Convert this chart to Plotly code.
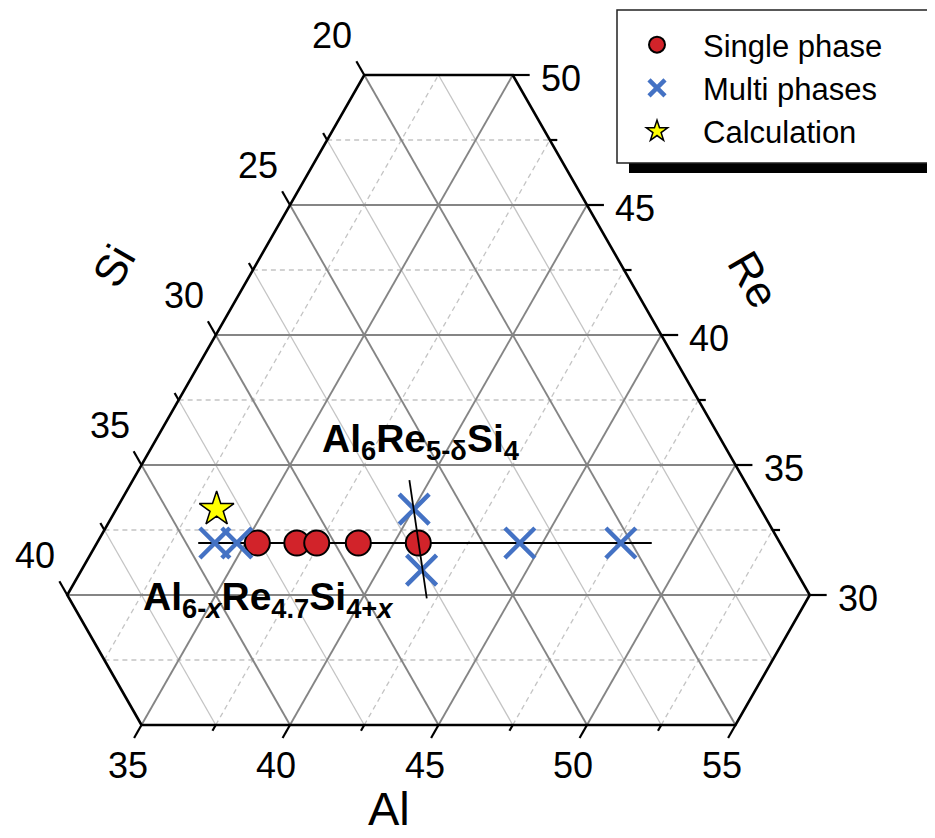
import plotly.graph_objects as go

# ---------------- data (at.%) ----------------
single_al = [35.40, 36.73, 37.40, 38.80, 40.82]
single_re = [32.0, 32.0, 32.0, 32.0, 32.0]
single_si = [100 - a - r for a, r in zip(single_al, single_re)]

multi_al = [33.97, 34.71, 44.24, 47.64, 40.03, 41.45]
multi_re = [32.0, 32.0, 32.0, 32.0, 33.30, 30.96]
multi_si = [100 - a - r for a, r in zip(multi_al, multi_re)]

calc_al = [33.38]
calc_re = [33.30]
calc_si = [100 - a - r for a, r in zip(calc_al, calc_re)]

# Al(6-x)Re4.7Si(4+x) line (constant Re) and Al6Re(5-d)Si4 line (Al:Si = 6:4)
line1_al = [33.41, 48.68]
line1_re = [32.0, 32.0]
line2_al = [39.31, 42.17]
line2_re = [34.42, 29.87]

# axis tick labels
AL_TICKS = [35, 40, 45, 50, 55]
SI_TICKS = [20, 25, 30, 35, 40]
RE_TICKS = [30, 35, 40, 45, 50]

# composition window shown (hexagon)
AL_MIN, AL_MAX = 30, 55
SI_MIN, SI_MAX = 15, 40
RE_MIN, RE_MAX = 25, 50

# ---------------- geometry helpers ----------------
OFF = 8                      # page body margin
W, H = 935 - OFF, 838 - OFF
PX_X = 29.7                  # px per at.% along edges (horizontal)
PX_Y = 26.0                  # px per at.% of Re (vertical)
X0_PX, Y0_PX = 141.5 - OFF, 725.0 - OFF   # figure pixel of Al=35, Re=25 corner
X_REF = 35 + 25 / 2


def xy(al, re):
    """ternary composition (Al, Re; Si = rest) -> cartesian data coords"""
    return al + re / 2.0, re


x_range = [X_REF - X0_PX / PX_X, X_REF + (W - X0_PX) / PX_X]
y_range = [RE_MIN - (H - Y0_PX) / PX_Y, RE_MIN + Y0_PX / PX_Y]


def px2paper(px, py):
    return (px - OFF) / W, 1 - (py - OFF) / H


def frange(a, b, step):
    out, v = [], a
    while v <= b + 1e-9:
        out.append(round(v, 4))
        v += step
    return out


def seg_re(r):
    a0 = max(AL_MIN, 100 - r - SI_MAX)
    a1 = min(AL_MAX, 100 - r - SI_MIN)
    return [(a0, r), (a1, r)]


def seg_al(a):
    r0 = max(RE_MIN, 100 - a - SI_MAX)
    r1 = min(RE_MAX, 100 - a - SI_MIN)
    return [(a, r0), (a, r1)]


def seg_si(s):
    r0 = max(RE_MIN, 100 - s - AL_MAX)
    r1 = min(RE_MAX, 100 - s - AL_MIN)
    return [(100 - s - r0, r0), (100 - s - r1, r1)]


def collect(segs):
    xs, ys = [], []
    for seg in segs:
        for a, r in seg:
            x, y = xy(a, r)
            xs.append(x)
            ys.append(y)
        xs.append(None)
        ys.append(None)
    return xs, ys


fig = go.Figure()

GRID_MAJOR = "#858585"
GRID_MINOR = "#c4c4c4"


def add_lines(segs, color, width, dash="solid"):
    xs, ys = collect(segs)
    fig.add_trace(go.Scatter(x=xs, y=ys, mode="lines", showlegend=False,
                             hoverinfo="skip",
                             line=dict(color=color, width=width, dash=dash)))


re_vals = frange(RE_MIN + 2.5, RE_MAX - 2.5, 2.5)
al_vals = frange(AL_MIN + 2.5, AL_MAX - 2.5, 2.5)
si_vals = frange(SI_MIN + 2.5, SI_MAX - 2.5, 2.5)

# minor grid
add_lines([seg_re(v) for v in re_vals if v % 5], GRID_MINOR, 1.3, "5px,4px")
add_lines([seg_al(v) for v in al_vals if v % 5], GRID_MINOR, 1.3, "5px,4px")
add_lines([seg_si(v) for v in si_vals if v % 5], GRID_MINOR, 1.3)
# major grid
add_lines([seg_re(v) for v in re_vals if v % 5 == 0], GRID_MAJOR, 1.9)
add_lines([seg_al(v) for v in al_vals if v % 5 == 0], GRID_MAJOR, 1.9)
add_lines([seg_si(v) for v in si_vals if v % 5 == 0], GRID_MAJOR, 1.9)

# hexagon border
hexagon = [(35, 25), (55, 25), (55, 30), (35, 50), (30, 50), (30, 30), (35, 25)]
hx, hy = zip(*[xy(a, r) for a, r in hexagon])
fig.add_trace(go.Scatter(x=list(hx), y=list(hy), mode="lines", showlegend=False,
                         hoverinfo="skip", line=dict(color="black", width=2.6)))

# ticks
ticks = []
for s in frange(SI_TICKS[0], SI_TICKS[-1], 2.5):
    d = 0.53 if s % 5 == 0 else 0.27
    r = 100 - AL_MIN - s
    ticks.append([(AL_MIN, r), (AL_MIN - d, r + d)])
for r in frange(RE_TICKS[0], RE_TICKS[-1], 2.5):
    d = 0.57 if r % 5 == 0 else 0.25
    a = 100 - SI_MIN - r
    ticks.append([(a, r), (a + d, r)])
for a in frange(AL_TICKS[0], AL_TICKS[-1], 2.5):
    d = 0.5 if a % 5 == 0 else 0.22
    ticks.append([(a, RE_MIN), (a, RE_MIN - d)])
add_lines(ticks, "black", 2.2)

# data lines
l1 = [xy(a, r) for a, r in zip(line1_al, line1_re)]
fig.add_trace(go.Scatter(x=[p[0] for p in l1], y=[p[1] for p in l1], mode="lines",
                         showlegend=False, hoverinfo="skip",
                         line=dict(color="black", width=2)))

FONT = "Liberation Sans, Arial, sans-serif"

sp = [xy(a, r) for a, r in zip(single_al, single_re)]
fig.add_trace(go.Scatter(x=[p[0] for p in sp], y=[p[1] for p in sp], mode="markers",
                         name="Single phase",
                         marker=dict(symbol="circle", size=25, color="#D2232A",
                                     line=dict(color="black", width=2))))
mp = [xy(a, r) for a, r in zip(multi_al, multi_re)]
fig.add_trace(go.Scatter(x=[p[0] for p in mp], y=[p[1] for p in mp], mode="markers",
                         name="Multi phases",
                         marker=dict(symbol="x-thin", size=30, color="#4472C4",
                                     line=dict(color="#4472C4", width=4.5))))
cp = [xy(a, r) for a, r in zip(calc_al, calc_re)]
fig.add_trace(go.Scatter(x=[p[0] for p in cp], y=[p[1] for p in cp], mode="markers",
                         name="Calculation",
                         marker=dict(symbol="star", size=26, color="#FFFF00",
                                     line=dict(color="black", width=1.5))))

l2 = [xy(a, r) for a, r in zip(line2_al, line2_re)]
fig.add_trace(go.Scatter(x=[p[0] for p in l2], y=[p[1] for p in l2], mode="lines",
                         showlegend=False, hoverinfo="skip",
                         line=dict(color="black", width=1.8)))

annotations = []
TICKFONT = dict(family=FONT, size=36, color="black")
for s in SI_TICKS:
    x, y = xy(AL_MIN, 100 - AL_MIN - s)
    annotations.append(dict(x=x, y=y, xref="x", yref="y", text=str(s), showarrow=False,
                            xanchor="center", yanchor="middle",
                            xshift=-32, yshift=40, font=TICKFONT))
for r in RE_TICKS:
    x, y = xy(100 - SI_MIN - r, r)
    annotations.append(dict(x=x, y=y, xref="x", yref="y", text=str(r), showarrow=False,
                            xanchor="center", yanchor="middle",
                            xshift=48, yshift=-3, font=TICKFONT))
for a in AL_TICKS:
    x, y = xy(a, RE_MIN)
    annotations.append(dict(x=x, y=y, xref="x", yref="y", text=str(a), showarrow=False,
                            xanchor="center", yanchor="middle",
                            xshift=-14, yshift=-40, font=TICKFONT))

# axis titles
for txt, (px, py), ang, size, yanc in [("Si", (113, 266), -60, 44, "middle"),
                                       ("Re", (754, 279), 60, 44, "middle"),
                                       ("Al", (389, 837), 0, 47, "bottom")]:
    xp, yp = px2paper(px, py)
    annotations.append(dict(x=xp, y=yp, xref="paper", yref="paper", text=txt,
                            showarrow=False, textangle=ang,
                            xanchor="center", yanchor=yanc,
                            font=dict(family=FONT, size=size, color="black")))

# phase formulas
for txt, (px, py) in [
    ("<b>Al<sub>6-<i>x</i></sub>Re<sub>4.7</sub>Si<sub>4+<i>x</i></sub></b>", (141, 599)),
    ("<b>Al<sub>6</sub>Re<sub>5-δ</sub>Si<sub>4</sub></b>", (320, 441)),
]:
    xp, yp = px2paper(px, py)
    annotations.append(dict(x=xp, y=yp, xref="paper", yref="paper", text=txt,
                            showarrow=False, xanchor="left", yanchor="middle",
                            font=dict(family=FONT, size=39, color="black")))

# legend frame (box + drop shadow)
sx0, sy0 = px2paper(629, 173)
sx1, sy1 = px2paper(960, 20)
bx0, by0 = px2paper(617, 163)
bx1, by1 = px2paper(933, 10)
lx, ly = px2paper(611, 18)

fig.update_layout(
    width=W, height=H,
    margin=dict(l=0, r=0, t=0, b=0, autoexpand=False),
    paper_bgcolor="white", plot_bgcolor="white",
    xaxis=dict(range=x_range, visible=False, fixedrange=True),
    yaxis=dict(range=y_range, visible=False, fixedrange=True),
    annotations=annotations,
    shapes=[dict(type="rect", xref="paper", yref="paper", x0=sx0, y0=sy0, x1=sx1, y1=sy1,
                 fillcolor="black", line=dict(width=0), layer="above"),
            dict(type="rect", xref="paper", yref="paper", x0=bx0, y0=by0, x1=bx1, y1=by1,
                 fillcolor="white", line=dict(color="#222222", width=1.5), layer="above")],
    legend=dict(x=lx, y=ly, xanchor="left", yanchor="top", bgcolor="rgba(0,0,0,0)",
                borderwidth=0, itemwidth=82,
                font=dict(family=FONT, size=31, color="black")),
    showlegend=True,
)

fig.write_html("out.html")
